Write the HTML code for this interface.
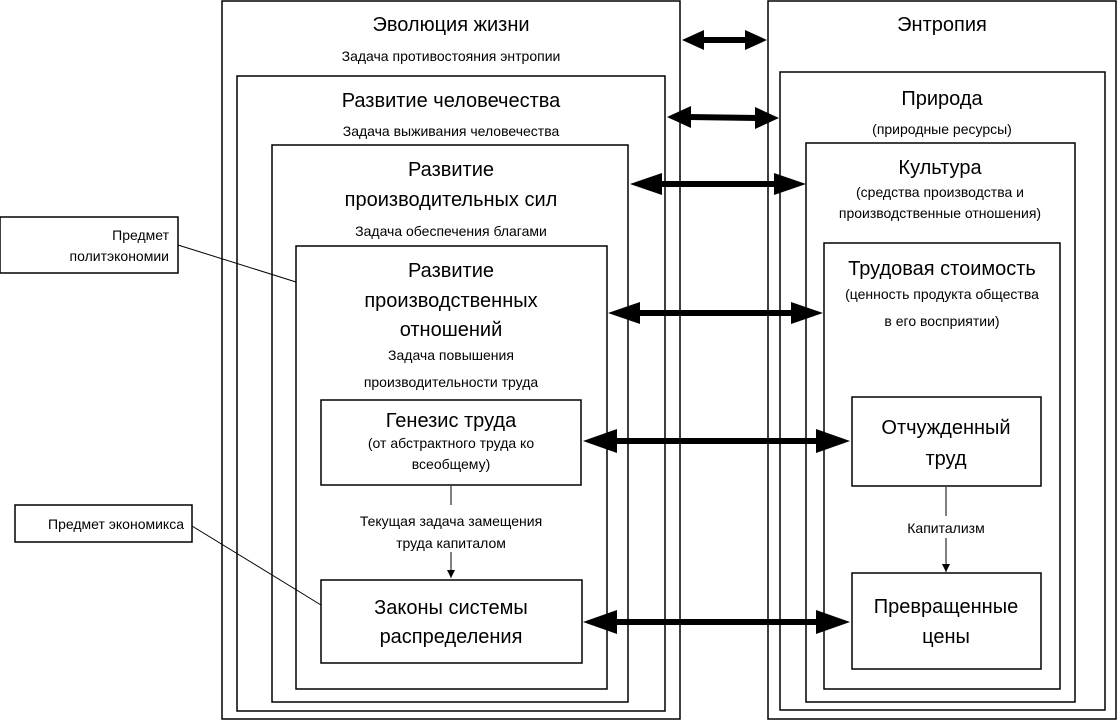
<!DOCTYPE html>
<html><head><meta charset="utf-8"><style>
html,body{margin:0;padding:0;background:#fff}
svg text{font-family:"Liberation Sans",sans-serif;fill:#000}
</style></head><body>
<svg width="1117" height="720" viewBox="0 0 1117 720" xmlns="http://www.w3.org/2000/svg">
<defs>
<marker id="a" markerWidth="8" markerHeight="8" refX="8" refY="4" orient="auto" markerUnits="userSpaceOnUse"><path d="M0,0 L8,4 L0,8 z" fill="#000"/></marker>
</defs>
<g fill="none" stroke="#000" stroke-width="1.5">
<rect x="222" y="1" width="458" height="718"/>
<rect x="237" y="76" width="428" height="635"/>
<rect x="272" y="145" width="356" height="557"/>
<rect x="296" y="246" width="311" height="443"/>
<rect x="321" y="400" width="260" height="85"/>
<rect x="321" y="580" width="261" height="83"/>
<rect x="768" y="1" width="348" height="718"/>
<rect x="780" y="72" width="325" height="638"/>
<rect x="806" y="143" width="269" height="559"/>
<rect x="824" y="243" width="236" height="446"/>
<rect x="852" y="397" width="189" height="89"/>
<rect x="852" y="573" width="189" height="96"/>
<rect x="0" y="217" width="178" height="56"/>
<rect x="15" y="505" width="177" height="37"/>
</g>
<g stroke="#000" stroke-width="1">
<line x1="178" y1="245" x2="296" y2="282"/>
<line x1="192" y1="526" x2="321" y2="605"/>
<line x1="451" y1="486" x2="451" y2="505"/>
<line x1="451" y1="552" x2="451" y2="578" marker-end="url(#a)"/>
<line x1="946" y1="487" x2="946" y2="516"/>
<line x1="946" y1="538" x2="946" y2="572" marker-end="url(#a)"/>
</g>
<g stroke="#000" stroke-width="6">
<line x1="700" y1="40" x2="750" y2="40"/>
<line x1="688" y1="117" x2="758" y2="118"/>
<line x1="655" y1="184" x2="782" y2="184"/>
<line x1="635" y1="313" x2="798" y2="313"/>
<line x1="610" y1="441" x2="822" y2="441"/>
<line x1="610" y1="622" x2="822" y2="622"/>
</g>
<g fill="#000">
<path d="M682,40 L704,30 L704,50z"/><path d="M767,40 L745,30 L745,50z"/>
<path d="M667,117 L691,106 L691,128z"/><path d="M779,118 L755,107 L755,129z"/>
<path d="M630,184 L662,173 L662,195z"/><path d="M806,184 L774,173 L774,195z"/>
<path d="M608,313 L640,302 L640,324z"/><path d="M823,313 L791,302 L791,324z"/>
<path d="M583,441 L617,429 L617,453z"/><path d="M850,441 L816,429 L816,453z"/>
<path d="M583,622 L617,610 L617,634z"/><path d="M850,622 L816,610 L816,634z"/>
</g>
<g text-anchor="middle">
<text x="451" y="31" font-size="20">Эволюция жизни</text>
<text x="451" y="61" font-size="14">Задача противостояния энтропии</text>
<text x="451" y="107" font-size="20">Развитие человечества</text>
<text x="451" y="136" font-size="14">Задача выживания человечества</text>
<text x="451" y="176" font-size="20">Развитие</text>
<text x="451" y="206" font-size="20">производительных сил</text>
<text x="451" y="236" font-size="14">Задача обеспечения благами</text>
<text x="451" y="277" font-size="20">Развитие</text>
<text x="451" y="307" font-size="20">производственных</text>
<text x="451" y="336" font-size="20">отношений</text>
<text x="451" y="360" font-size="14">Задача повышения</text>
<text x="451" y="387" font-size="14">производительности труда</text>
<text x="451" y="427" font-size="20">Генезис труда</text>
<text x="451" y="448" font-size="14">(от абстрактного труда ко</text>
<text x="451" y="469" font-size="14">всеобщему)</text>
<text x="451" y="526" font-size="14">Текущая задача замещения</text>
<text x="451" y="548" font-size="14">труда капиталом</text>
<text x="451" y="614" font-size="20">Законы системы</text>
<text x="451" y="643" font-size="20">распределения</text>
<text x="942" y="31" font-size="20">Энтропия</text>
<text x="942" y="105" font-size="20">Природа</text>
<text x="942" y="134" font-size="14">(природные ресурсы)</text>
<text x="940" y="174" font-size="20">Культура</text>
<text x="940" y="197" font-size="14">(средства производства и</text>
<text x="940" y="218" font-size="14">производственные отношения)</text>
<text x="942" y="275" font-size="20">Трудовая стоимость</text>
<text x="942" y="299" font-size="14">(ценность продукта общества</text>
<text x="942" y="326" font-size="14">в его восприятии)</text>
<text x="946" y="434" font-size="20">Отчужденный</text>
<text x="946" y="465" font-size="20">труд</text>
<text x="946" y="533" font-size="14">Капитализм</text>
<text x="946" y="613" font-size="20">Превращенные</text>
<text x="946" y="643" font-size="20">цены</text>
</g>
<g text-anchor="end" font-size="14">
<text x="169" y="240">Предмет</text>
<text x="169" y="261">политэкономии</text>
<text x="184" y="529">Предмет экономикса</text>
</g>
</svg>
</body></html>
